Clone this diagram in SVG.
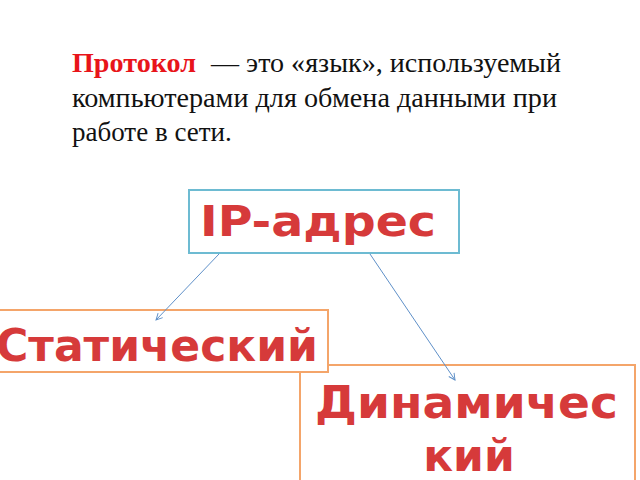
<svg xmlns="http://www.w3.org/2000/svg" width="640" height="480" viewBox="0 0 640 480">
<defs>
<style>
.para{font-family:"Liberation Serif","Times New Roman",serif;font-size:27px;fill:#111}
.red{fill:#E8141A;font-weight:bold}
.lbl{font-family:"DejaVu Sans",sans-serif;font-weight:bold;fill:#D63A3A}
.orange{fill:#fff;stroke:#F4A56A;stroke-width:2}
.blue{fill:#fff;stroke:#6DBBD2;stroke-width:2}
.conn{stroke:#5F90C8;stroke-width:1;fill:none}
</style>
<marker id="arr" viewBox="0 0 10 10" refX="9" refY="5" markerWidth="8" markerHeight="8" orient="auto" markerUnits="userSpaceOnUse">
<path d="M1,1 L9,5 L1,9" fill="none" stroke="#5F90C8" stroke-width="1.2"/>
</marker>
</defs>
<rect width="640" height="480" fill="#fff"/>
<g id="definition">
<text class="para red" x="72" y="72" textLength="124" lengthAdjust="spacingAndGlyphs">Протокол</text>
<text class="para" x="211" y="72" textLength="350" lengthAdjust="spacingAndGlyphs">— это «язык», используемый</text>
<text class="para" x="72" y="107" textLength="485" lengthAdjust="spacingAndGlyphs">компьютерами для обмена данными при</text>
<text class="para" x="72" y="141">работе в сети.</text>
</g>
<g id="dynamic">
<rect class="orange" x="300" y="365" width="335" height="130"/>
<text class="lbl" x="315" y="418" font-size="44" textLength="303" lengthAdjust="spacingAndGlyphs">Динамичес</text>
<text class="lbl" x="469" y="471" font-size="44" text-anchor="middle">кий</text>
</g>
<g id="static">
<rect class="orange" x="-10" y="310" width="338" height="62"/>
<text class="lbl" x="-4" y="361" font-size="44" textLength="322" lengthAdjust="spacingAndGlyphs">Статический</text>
</g>
<g id="ip">
<rect class="blue" x="189" y="190" width="270" height="63"/>
<text class="lbl" x="200" y="236" font-size="42" textLength="236" lengthAdjust="spacingAndGlyphs">IP-адрес</text>
</g>
<g id="connectors">
<line class="conn" x1="219" y1="254" x2="156" y2="320" marker-end="url(#arr)"/>
<line class="conn" x1="370" y1="254" x2="455" y2="380" marker-end="url(#arr)"/>
</g>
</svg>
